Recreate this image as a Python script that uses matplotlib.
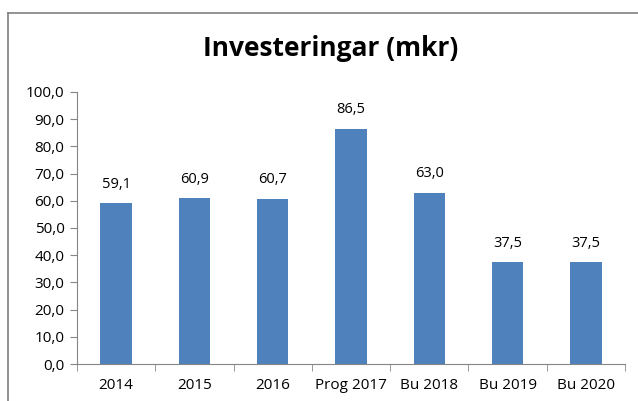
import matplotlib.pyplot as plt
from matplotlib.lines import Line2D

categories = ['2014', '2015', '2016', 'Prog 2017', 'Bu 2018', 'Bu 2019', 'Bu 2020']
values = [59.1, 60.9, 60.7, 86.5, 63.0, 37.5, 37.5]
yticks = [0, 10, 20, 30, 40, 50, 60, 70, 80, 90, 100]

plt.rcParams['font.family'] = ['Open Sans', 'DejaVu Sans']

fig = plt.figure(figsize=(6.38, 4.01), dpi=100)
ax = fig.add_axes([77/638, 1 - 364/401, 548/638, 272/401])

x = range(len(categories))
ax.bar(x, values, width=0.4, color='#4F81BD')
for i, v in enumerate(values):
    ax.text(i, v + 4.2, ('%.1f' % v).replace('.', ','), ha='center', va='bottom', fontsize=10.5)

ax.set_xlim(-0.5, len(categories) - 0.5)
ax.set_ylim(0, 100)
ax.set_yticks(yticks)
ax.set_yticklabels([('%.1f' % t).replace('.', ',') for t in yticks], fontsize=11)
ax.set_xticks(list(x))
ax.set_xticklabels(categories, fontsize=11)
ax.set_xticks([i - 0.5 for i in range(len(categories) + 1)], minor=True)

ax.tick_params(axis='x', which='major', length=0, pad=10)
ax.tick_params(axis='x', which='minor', length=5, color='#868686', direction='out')
ax.tick_params(axis='y', length=5, color='#868686', direction='out', pad=4)

for s in ['top', 'right']:
    ax.spines[s].set_visible(False)
for s in ['left', 'bottom']:
    ax.spines[s].set_color('#868686')

fig.text(331/638, 1 - 48/401, 'Investeringar (mkr)', ha='center', va='center',
         fontsize=19, fontweight='bold')

# chart frame (top and left edges visible)
fig.add_artist(Line2D([8/638, 1], [1 - 13/401, 1 - 13/401], color='#808080', lw=1.2))
fig.add_artist(Line2D([8/638, 8/638], [0, 1 - 13/401], color='#808080', lw=1.2))

fig.savefig('out.png', dpi=100)
